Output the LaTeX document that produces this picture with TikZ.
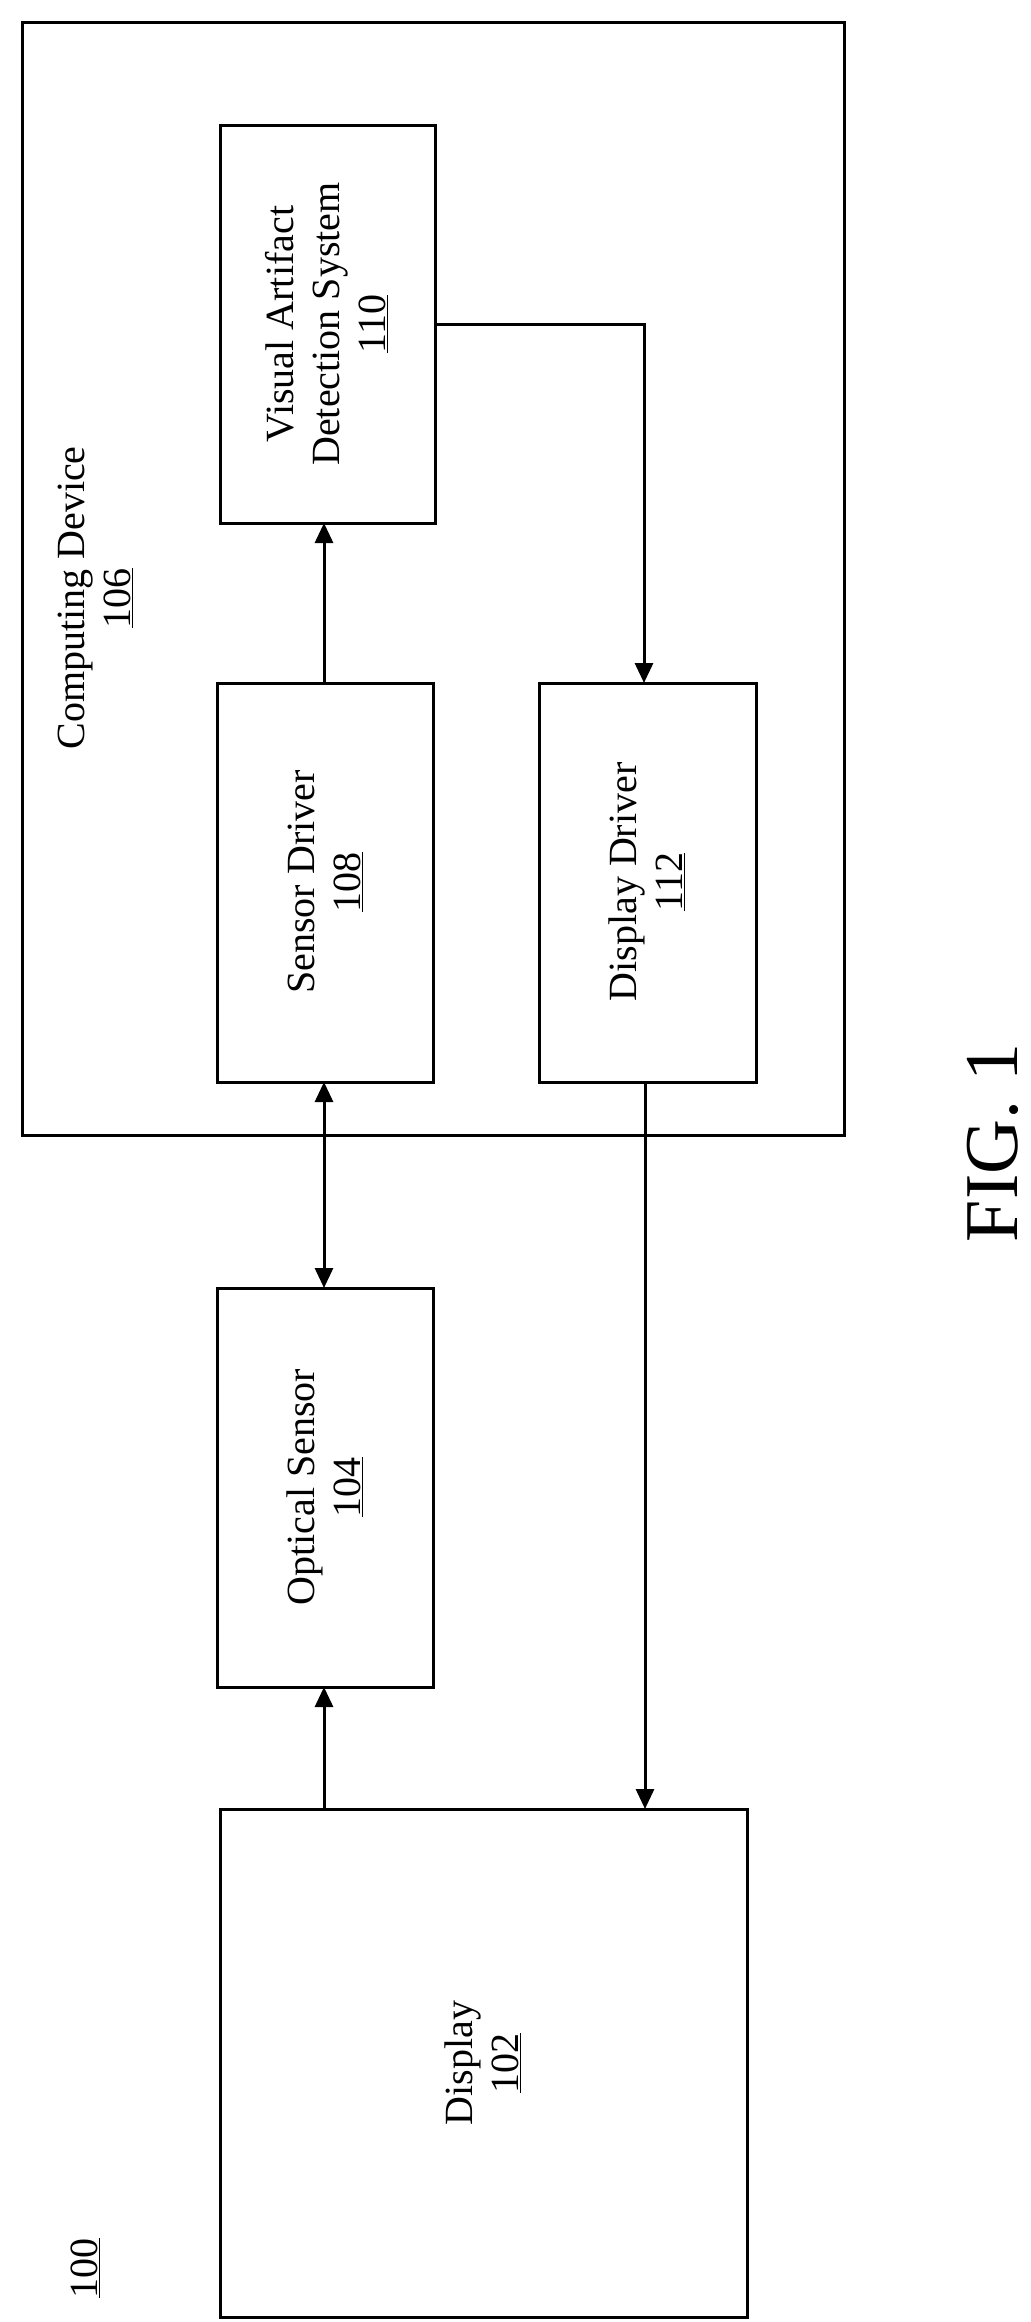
\documentclass[tikz,border=0pt]{standalone}
\usepackage{fontspec}
\setmainfont{Liberation Serif}
\usetikzlibrary{arrows.meta}
\begin{document}
\begin{tikzpicture}[x=1pt,y=-1pt,
  box/.style={draw,line width=3pt},
  lbl/.style={rotate=90,align=center,font=\fontsize{40}{46}\selectfont},
  arr/.style={line width=3pt,-{Triangle[length=20pt,width=18pt]}}]
\useasboundingbox (0,0) rectangle (1031,2322);
\draw[box] (22,22) rectangle (844,1135);
\node[lbl] (cdl) at (95,598) {Computing Device\\\underline{106}};
\draw[box] (220,125) rectangle (435,523);
\node[lbl] (vad) at (327,324) {Visual Artifact\\Detection System\\\underline{110}};
\draw[box] (217,683) rectangle (433,1082);
\node[lbl] (sd) at (325,882) {Sensor Driver\\\underline{108}};
\draw[box] (539,683) rectangle (756,1082);
\node[lbl] (dd) at (647,882) {Display Driver\\\underline{112}};
\draw[box] (217,1288) rectangle (433,1687);
\node[lbl] (os) at (325,1487) {Optical Sensor\\\underline{104}};
\draw[box] (220,1809) rectangle (747,2317);
\node[lbl] (d) at (483,2063) {Display\\\underline{102}};
\node[lbl] (n100) at (85,2268) {\underline{100}};
\node[rotate=90,font=\fontsize{76}{80}\selectfont] (fig) at (993,1143) {FIG. 1};
\draw[arr] (324,1809) -- (324,1687);
\draw[arr,{Triangle[length=20pt,width=18pt]}-{Triangle[length=20pt,width=18pt]}] (324,1288) -- (324,1082);
\draw[arr] (324,683) -- (324,523);
\draw[arr] (435,324) -| (644,683);
\draw[arr] (645,1082) -- (645,1809);
\end{tikzpicture}
\end{document}
